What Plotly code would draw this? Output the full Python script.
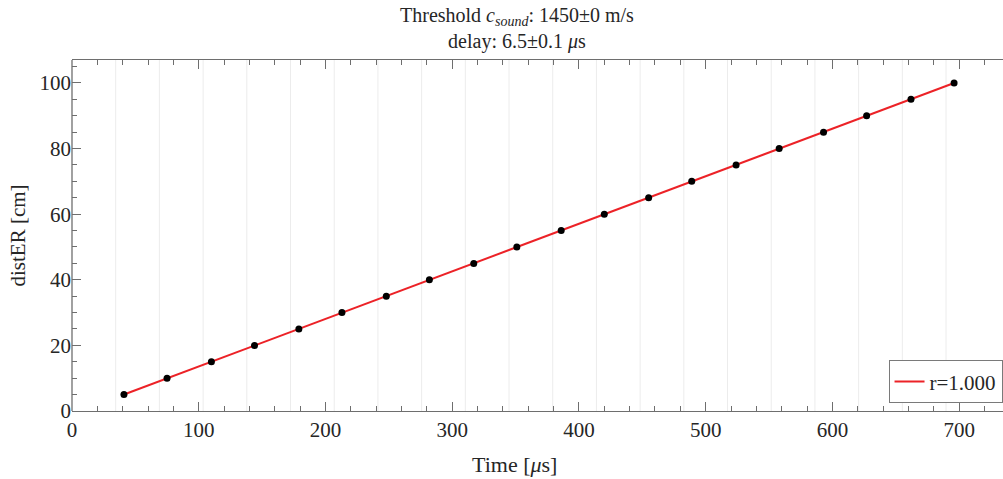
import numpy as np
import plotly.graph_objects as go

# Measured echo times [µs] and the corresponding distances [cm]
time_us = [41, 75, 110, 144, 179, 213, 248, 282, 317, 351,
           386, 420, 455, 489, 524, 558, 593, 627, 662, 696]
dist_cm = [5, 10, 15, 20, 25, 30, 35, 40, 45, 50,
           55, 60, 65, 70, 75, 80, 85, 90, 95, 100]

# Fit parameters quoted in the title
c_sound = 1450.0      # m/s
delay_us = 6.5        # µs
r_value = 1.000

x_ticks = [0, 100, 200, 300, 400, 500, 600, 700]
y_ticks = [0, 20, 40, 60, 80, 100]
x_range = [0, 734.6]
y_range = [0, 107]

FONT = "Liberation Serif"
TXT = "#262626"
AXIS_COL = "#6e6e6e"

W, H = 1003, 479
ML, MR, MT, MB = 72, 0, 60, 68
PW = W - ML - MR
PH = H - MT - MB

t = np.array(time_us, dtype=float)
d = np.array(dist_cm, dtype=float)
slope, icpt = np.polyfit(t, d, 1)
fit_x = np.array([t.min(), t.max()])
fit_y = slope * fit_x + icpt

# time of flight without the electronic delay (cm / (cm/µs))
tof = d / (c_sound * 1e-4)

fig = go.Figure()
fig.add_trace(go.Scatter(
    x=fit_x, y=fit_y, mode="lines",
    line=dict(color="#ec2227", width=2),
    name=f"r={r_value:.3f}", showlegend=True,
))
fig.add_trace(go.Scatter(
    x=time_us, y=dist_cm, mode="markers",
    marker=dict(color="black", size=7, symbol="circle"),
    showlegend=False,
))

shapes = []
for tv in tof:
    shapes.append(dict(type="line", xref="x", yref="paper",
                       x0=tv, x1=tv, y0=0, y1=1,
                       line=dict(color="#ececec", width=1), layer="below"))
# left spine
shapes.append(dict(type="line", xref="paper", yref="paper", x0=0, x1=0, y0=0, y1=1,
                   line=dict(color=AXIS_COL, width=1.3)))

title_txt = ("Threshold <i>c</i><sub><i>sound</i></sub>: 1450±0 m/s"
             "<br>delay: 6.5±0.1 <i>μ</i>s")

fig.update_layout(
    width=W, height=H,
    margin=dict(l=ML, r=MR, t=MT, b=MB),
    paper_bgcolor="white", plot_bgcolor="white",
    font=dict(family=FONT, size=20, color=TXT),
    shapes=shapes,
    showlegend=True,
    legend=dict(
        x=0.9995, xanchor="right", y=0.022, yanchor="bottom",
        bordercolor="#7a7a7a", borderwidth=1, bgcolor="white",
        font=dict(family=FONT, size=21, color=TXT),
        itemwidth=30, tracegroupgap=0,
    ),
    annotations=[
        dict(text=title_txt, x=(517 - ML) / PW, y=1 + 5 / PH,
             xref="paper", yref="paper", showarrow=False,
             xanchor="center", yanchor="bottom", align="center",
             font=dict(family=FONT, size=20, color=TXT)),
        dict(text="Time [<i>μ</i>s]", x=(514 - ML) / PW, y=-(465 - MT - PH) / PH,
             xref="paper", yref="paper", showarrow=False,
             xanchor="center", yanchor="middle",
             font=dict(family=FONT, size=22, color=TXT)),
    ],
)

fig.update_xaxes(
    range=x_range, tickvals=x_ticks, ticks="inside", ticklen=9, tickwidth=1.2,
    tickcolor=AXIS_COL, showline=True, linecolor=AXIS_COL, linewidth=1.3,
    mirror="ticks", showgrid=False, zeroline=False,
    minor=dict(dtick=20, ticks="inside", ticklen=5, tickcolor=AXIS_COL, tickwidth=1, showgrid=False),
    tickfont=dict(family=FONT, size=21, color=TXT),
)
fig.update_yaxes(
    range=y_range, tickvals=y_ticks, ticks="inside", ticklen=9, tickwidth=1.2,
    tickcolor=AXIS_COL, showline=False, mirror=False, showgrid=False, zeroline=False,
    minor=dict(dtick=5, ticks="inside", ticklen=5, tickcolor=AXIS_COL, tickwidth=1, showgrid=False),
    tickfont=dict(family=FONT, size=21, color=TXT),
    title=dict(text="distER [cm]", standoff=8, font=dict(family=FONT, size=21, color=TXT)),
)

fig.write_html("out.html")
